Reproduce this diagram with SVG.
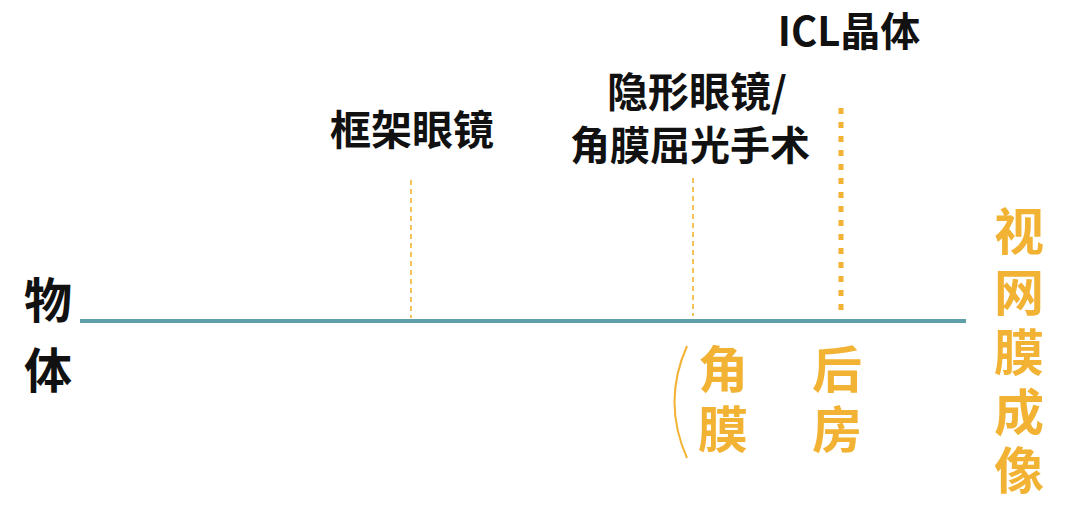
<svg xmlns="http://www.w3.org/2000/svg" width="1080" height="510" viewBox="0 0 1080 510">
<style>
.lbl{font-family:"Noto Sans CJK SC","Noto Sans",sans-serif;font-weight:bold;fill:#111;}
.org{font-family:"Noto Sans CJK SC","Noto Sans",sans-serif;font-weight:bold;fill:#F2B233;}
.thin{stroke:#F2B233;stroke-width:1.6;stroke-dasharray:5 4;fill:none;}
</style>
<rect width="1080" height="510" fill="#fff"/>
<g id="connectors">
<line x1="80" y1="321" x2="966" y2="321" stroke="#5E9FA8" stroke-width="4"/>
<line class="thin" x1="411" y1="180" x2="411" y2="318"/>
<line class="thin" x1="693" y1="178" x2="693" y2="316"/>
<line x1="841" y1="108" x2="841" y2="318" stroke="#F2B233" stroke-width="5" stroke-dasharray="6 8"/>
<path d="M687,346 Q662,402 687,458" fill="none" stroke="#F2B233" stroke-width="2"/>
</g>
<g id="object"><text class="lbl" x="48" y="318" font-size="48" text-anchor="middle">物</text><text class="lbl" x="48" y="388" font-size="48" text-anchor="middle">体</text></g>
<g id="glasses"><text class="lbl" x="412" y="145" font-size="41" text-anchor="middle">框架眼镜</text></g>
<g id="contact"><text class="lbl" x="697" y="107" font-size="41" text-anchor="middle">隐形眼镜/</text><text class="lbl" x="690" y="160" font-size="40" text-anchor="middle">角膜屈光手术</text></g>
<g id="icl"><text class="lbl" x="849" y="46" font-size="40" text-anchor="middle">ICL晶体</text></g>
<g id="cornea"><text class="org" x="723" y="388" font-size="50" text-anchor="middle">角</text><text class="org" x="723" y="448" font-size="50" text-anchor="middle">膜</text></g>
<g id="posterior"><text class="org" x="837" y="388" font-size="50" text-anchor="middle">后</text><text class="org" x="837" y="448" font-size="50" text-anchor="middle">房</text></g>
<g id="retina"><text class="org" x="1019" y="250" font-size="50" text-anchor="middle">视</text><text class="org" x="1019" y="311" font-size="50" text-anchor="middle">网</text><text class="org" x="1019" y="371" font-size="50" text-anchor="middle">膜</text><text class="org" x="1019" y="431" font-size="50" text-anchor="middle">成</text><text class="org" x="1019" y="489" font-size="50" text-anchor="middle">像</text></g>
</svg>
